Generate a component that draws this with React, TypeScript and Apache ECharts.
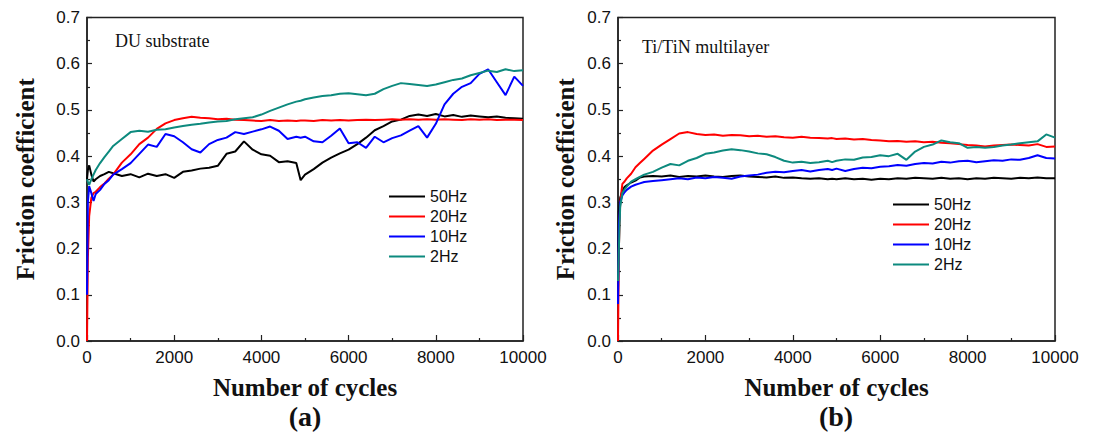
import React, { useEffect, useRef } from "react";
import * as echarts from "echarts";

const cycles = [0, 20, 50, 100, 150, 200, 300, 400, 500, 600,
  800, 1000, 1200, 1400, 1600, 1800, 2000, 2200, 2400, 2600,
  2800, 3000, 3200, 3400, 3600, 3800, 4000, 4200, 4400, 4600,
  4800, 4900, 5000, 5200, 5400, 5600, 5800, 6000, 6200, 6400,
  6600, 6800, 7000, 7200, 7400, 7600, 7800, 8000, 8200, 8400,
  8600, 8800, 9000, 9200, 9400, 9600, 9800, 10000];

const xTicks = [0, 2000, 4000, 6000, 8000, 10000];
const yTicks = [0, 0.1, 0.2, 0.3, 0.4, 0.5, 0.6, 0.7];
const seriesNames = ["50Hz", "20Hz", "10Hz", "2Hz"];
const seriesColors = ["#000000", "#ff0000", "#0000ff", "#0d8a7e"];

// (a) DU substrate
const a50 = [0.35, 0.37, 0.38, 0.36, 0.345, 0.35, 0.357, 0.361, 0.366, 0.363,
  0.357, 0.361, 0.354, 0.362, 0.357, 0.361, 0.353, 0.366, 0.369, 0.373,
  0.375, 0.379, 0.405, 0.41, 0.432, 0.414, 0.404, 0.401, 0.387, 0.389,
  0.385, 0.348, 0.36, 0.372, 0.386, 0.397, 0.406, 0.414, 0.426, 0.44,
  0.456, 0.465, 0.475, 0.479, 0.487, 0.49, 0.487, 0.491, 0.486, 0.489,
  0.485, 0.488, 0.486, 0.484, 0.486, 0.483, 0.482, 0.481];
const a20 = [0, 0.18, 0.27, 0.31, 0.32, 0.323, 0.333, 0.341, 0.351, 0.36,
  0.386, 0.404, 0.426, 0.44, 0.459, 0.471, 0.478, 0.482, 0.485, 0.483,
  0.482, 0.48, 0.481, 0.479, 0.478, 0.477, 0.476, 0.478, 0.476, 0.477,
  0.476, 0.477, 0.477, 0.476, 0.478, 0.477, 0.478, 0.477, 0.478, 0.479,
  0.478, 0.479, 0.48, 0.479, 0.48, 0.479, 0.48, 0.479, 0.48, 0.479,
  0.478, 0.48, 0.479, 0.48, 0.478, 0.479, 0.479, 0.478];
const a10 = [0.1, 0.3, 0.335, 0.32, 0.303, 0.318, 0.327, 0.34, 0.348, 0.36,
  0.372, 0.385, 0.405, 0.425, 0.42, 0.448, 0.443, 0.43, 0.415, 0.408,
  0.426, 0.435, 0.44, 0.452, 0.448, 0.453, 0.458, 0.464, 0.455, 0.437,
  0.442, 0.44, 0.442, 0.432, 0.43, 0.444, 0.46, 0.428, 0.43, 0.418,
  0.442, 0.43, 0.439, 0.445, 0.455, 0.465, 0.44, 0.47, 0.512, 0.535,
  0.55, 0.558, 0.578, 0.588, 0.56, 0.532, 0.572, 0.552];
const a2 = [0.35, 0.345, 0.338, 0.35, 0.36, 0.37, 0.385, 0.398, 0.41, 0.422,
  0.437, 0.452, 0.455, 0.453, 0.457, 0.458, 0.462, 0.465, 0.468, 0.47,
  0.473, 0.475, 0.476, 0.48, 0.482, 0.484, 0.49, 0.498, 0.505, 0.512,
  0.518, 0.52, 0.523, 0.527, 0.53, 0.532, 0.535, 0.536, 0.534, 0.532,
  0.535, 0.545, 0.552, 0.558, 0.556, 0.554, 0.552, 0.555, 0.56, 0.565,
  0.568, 0.575, 0.58, 0.585, 0.582, 0.588, 0.584, 0.586];

// (b) Ti/TiN multilayer
const b50 = [0.1, 0.28, 0.31, 0.325, 0.333, 0.337, 0.343, 0.347, 0.354, 0.356,
  0.357, 0.356, 0.358, 0.355, 0.357, 0.356, 0.358, 0.356, 0.355, 0.357,
  0.358, 0.356, 0.355, 0.354, 0.356, 0.353, 0.354, 0.352, 0.351, 0.352,
  0.35, 0.351, 0.35, 0.352, 0.35, 0.351, 0.349, 0.351, 0.35, 0.352,
  0.351, 0.353, 0.352, 0.351, 0.353, 0.351, 0.352, 0.35, 0.352, 0.351,
  0.353, 0.352, 0.351, 0.353, 0.352, 0.354, 0.352, 0.352];
const b20 = [0, 0.2, 0.3, 0.34, 0.345, 0.352, 0.362, 0.376, 0.385, 0.394,
  0.412, 0.425, 0.437, 0.449, 0.452, 0.448, 0.446, 0.447, 0.444, 0.446,
  0.445, 0.443, 0.444, 0.442, 0.443, 0.441, 0.44, 0.442, 0.44, 0.439,
  0.438, 0.439, 0.437, 0.438, 0.436, 0.437, 0.435, 0.434, 0.432, 0.433,
  0.431, 0.432, 0.43, 0.431, 0.429, 0.428, 0.426, 0.424, 0.423, 0.421,
  0.423, 0.424, 0.425, 0.424, 0.423, 0.426, 0.42, 0.421];
const b10 = [0.08, 0.25, 0.3, 0.315, 0.322, 0.327, 0.334, 0.338, 0.341, 0.344,
  0.346, 0.348, 0.35, 0.352, 0.35, 0.354, 0.352, 0.355, 0.353, 0.351,
  0.356, 0.358, 0.36, 0.364, 0.366, 0.365, 0.368, 0.37, 0.367, 0.37,
  0.372, 0.37, 0.373, 0.368, 0.372, 0.375, 0.374, 0.377, 0.378, 0.381,
  0.379, 0.383, 0.385, 0.384, 0.388, 0.386, 0.389, 0.39, 0.387, 0.389,
  0.391, 0.39, 0.393, 0.392, 0.396, 0.402, 0.396, 0.395];
const b2 = [0.13, 0.2, 0.29, 0.32, 0.328, 0.334, 0.345, 0.35, 0.355, 0.36,
  0.366, 0.375, 0.383, 0.38, 0.39, 0.396, 0.405, 0.408, 0.412, 0.415,
  0.413, 0.41, 0.406, 0.404, 0.398, 0.39, 0.386, 0.388, 0.385, 0.387,
  0.39, 0.387, 0.39, 0.393, 0.392, 0.397, 0.398, 0.402, 0.4, 0.405,
  0.392, 0.41, 0.42, 0.425, 0.434, 0.43, 0.428, 0.418, 0.42, 0.418,
  0.42, 0.423, 0.425, 0.428, 0.43, 0.432, 0.447, 0.44];

const panelA = [a50, a20, a10, a2];
const panelB = [b50, b20, b10, b2];

const SANS = "'Liberation Sans', Arial, sans-serif";
const SERIF = "'Liberation Serif', 'Times New Roman', serif";
const INK = "#111";

function xAxis(gridIndex: number) {
  return {
    type: "value",
    gridIndex,
    min: xTicks[0],
    max: xTicks[xTicks.length - 1],
    interval: xTicks[1] - xTicks[0],
    name: "Number of cycles",
    nameLocation: "middle",
    nameGap: 34,
    nameTextStyle: { fontFamily: SERIF, fontWeight: "bold", fontSize: 25, color: INK },
    axisLine: { show: true, onZero: false, lineStyle: { color: "#222", width: 1.5 } },
    axisTick: { show: true, inside: true, length: 6, lineStyle: { color: "#222", width: 1.2 } },
    minorTick: { show: true, splitNumber: 2, length: 3, lineStyle: { color: "#222", width: 1.2 } },
    splitLine: { show: false },
    axisLabel: { fontFamily: SANS, fontSize: 17, color: INK, margin: 8, formatter: (v: number) => String(v) },
  };
}

function yAxis(gridIndex: number, nameGap: number) {
  return {
    type: "value",
    gridIndex,
    min: yTicks[0],
    max: yTicks[yTicks.length - 1],
    interval: 0.1,
    name: "Friction coefficient",
    nameLocation: "middle",
    nameGap,
    nameTextStyle: { fontFamily: SERIF, fontWeight: "bold", fontSize: 25, color: INK },
    axisLine: { show: true, onZero: false, lineStyle: { color: "#222", width: 1.5 } },
    axisTick: { show: true, inside: true, length: 5, lineStyle: { color: "#222", width: 1.2 } },
    minorTick: { show: true, splitNumber: 2, length: 3, lineStyle: { color: "#222", width: 1.2 } },
    splitLine: { show: false },
    axisLabel: { fontFamily: SANS, fontSize: 17, color: INK, margin: 7, formatter: (v: number) => v.toFixed(1) },
  };
}

function legend(left: number, top: number) {
  return {
    left,
    top,
    orient: "vertical",
    icon: "rect",
    itemWidth: 36,
    itemHeight: 2,
    itemGap: 3,
    padding: 0,
    selectedMode: false,
    data: seriesNames,
    textStyle: { fontFamily: SANS, fontSize: 16, color: INK, lineHeight: 17 },
  };
}

function buildSeries(panel: number[][], axisIndex: number) {
  return panel.map((vals, k) => ({
    name: seriesNames[k],
    type: "line",
    xAxisIndex: axisIndex,
    yAxisIndex: axisIndex,
    showSymbol: false,
    symbol: "none",
    clip: true,
    color: seriesColors[k],
    lineStyle: { color: seriesColors[k], width: 2 },
    data: cycles.map((c, i) => [c, vals[i]]),
  }));
}

export default function App() {
  const ref = useRef<HTMLDivElement>(null);
  useEffect(() => {
    const chart = echarts.init(ref.current!, null, { renderer: "svg" });
    chart.setOption({
      animation: false,
      backgroundColor: "#fff",
      grid: [
        { left: 87, top: 17.5, width: 436, height: 323.5, show: true, borderColor: "#222", borderWidth: 1.5 },
        { left: 618, top: 17.5, width: 437, height: 323.5, show: true, borderColor: "#222", borderWidth: 1.5 },
      ],
      xAxis: [xAxis(0), xAxis(1)],
      yAxis: [yAxis(0, 49), yAxis(1, 40)],
      legend: [legend(389, 188), legend(893, 196)],
      series: [...buildSeries(panelA, 0), ...buildSeries(panelB, 1)],
      graphic: [
        { type: "text", left: 115, top: 32, style: { text: "DU substrate", font: `18px ${SERIF}`, fill: INK } },
        { type: "text", left: 642, top: 38, style: { text: "Ti/TiN multilayer", font: `18px ${SERIF}`, fill: INK } },
        { type: "text", x: 305, y: 416, style: { text: "(a)", font: `bold 28px ${SERIF}`, fill: INK, align: "center", verticalAlign: "middle" } },
        { type: "text", x: 836, y: 416, style: { text: "(b)", font: `bold 28px ${SERIF}`, fill: INK, align: "center", verticalAlign: "middle" } },
      ],
    });
    return () => chart.dispose();
  }, []);
  return (
    <div
      ref={ref}
      style={{ position: "absolute", left: 0, top: 0, width: 1098, height: 436, background: "#fff" }}
    />
  );
}
